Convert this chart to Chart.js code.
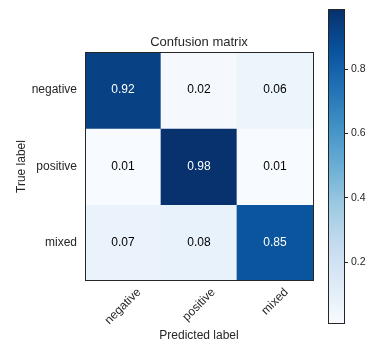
<!DOCTYPE html>
<html>
<head>
<meta charset="utf-8">
<script src="https://cdn.jsdelivr.net/npm/chart.js@4.4.1/dist/chart.umd.min.js"></script>
<style>
  html, body { margin: 0; padding: 0; background: #ffffff; overflow: hidden; }
  #wrap { position: relative; width: 386px; height: 353px; }
  #main { position: absolute; left: 0; top: 0; }
  #cb { position: absolute; left: 320px; top: 0; }
</style>
</head>
<body>
<div id="wrap">
  <canvas id="main" width="386" height="353"></canvas>
  <canvas id="cb" width="66" height="353"></canvas>
</div>
<script>
// ---------- data ----------
const classes = ['negative', 'positive', 'mixed'];      // true (rows) and predicted (columns) labels
const negativeRow = [0.92, 0.02, 0.06];
const positiveRow = [0.01, 0.98, 0.01];
const mixedRow    = [0.07, 0.08, 0.85];
const matrixRows  = [negativeRow, positiveRow, mixedRow];
const colorbarTicks = [0.2, 0.4, 0.6, 0.8];
const colorMin = 0.008;   // colour scale limits
const colorMax = 0.986;
const chartTitle = 'Confusion matrix';
const xTitle = 'Predicted label';
const yTitle = 'True label';

// ---------- style ----------
const FONT = '"Liberation Sans", Arial, sans-serif';
const INK = '#262626';
const BLUES = [
  [247, 251, 255], [222, 235, 247], [198, 219, 239], [158, 202, 225], [107, 174, 214],
  [66, 146, 198], [33, 113, 181], [8, 81, 156], [8, 48, 107]
];
function blues(t) {
  t = Math.max(0, Math.min(1, t));
  const p = t * (BLUES.length - 1);
  const i = Math.min(Math.floor(p), BLUES.length - 2);
  const f = p - i;
  const a = BLUES[i], b = BLUES[i + 1];
  const c = a.map((v, k) => Math.round(v + (b[k] - v) * f));
  return `rgb(${c[0]},${c[1]},${c[2]})`;
}
const norm = v => (v - colorMin) / (colorMax - colorMin);
const maxVal = Math.max(...matrixRows.flat());
const thresh = maxVal / 2;

// frame around the plot area
const framePlugin = {
  id: 'frame',
  afterDraw(chart) {
    const {ctx, chartArea: a} = chart;
    ctx.save();
    ctx.strokeStyle = INK;
    ctx.lineWidth = 1;
    const l = Math.round(a.left) + 0.5, t = Math.round(a.top) + 0.5;
    const r = Math.round(a.right) + 0.5, b = Math.round(a.bottom) - 0.5;
    ctx.strokeRect(l, t, r - l, b - t);
    ctx.restore();
  }
};

// cell value texts
const cellTextPlugin = {
  id: 'cellText',
  afterDatasetsDraw(chart) {
    const {ctx} = chart;
    ctx.save();
    ctx.font = `12px ${FONT}`;
    ctx.textAlign = 'center';
    ctx.textBaseline = 'middle';
    chart.data.datasets.forEach((ds, i) => {
      const meta = chart.getDatasetMeta(i);
      meta.data.forEach((el, j) => {
        const v = matrixRows[i][j];
        ctx.fillStyle = v > thresh ? '#ffffff' : '#000000';
        ctx.fillText(v.toFixed(2), el.x, (el.y + el.base) / 2);
      });
    });
    ctx.restore();
  }
};

// rotated (45°) predicted-class labels, centred under each column
const xLabelPlugin = {
  id: 'xLabels',
  afterDraw(chart) {
    const {ctx, chartArea} = chart;
    const xs = chart.scales.x;
    const fs = 12;
    ctx.save();
    ctx.font = `${fs}px ${FONT}`;
    ctx.fillStyle = INK;
    ctx.textAlign = 'center';
    ctx.textBaseline = 'middle';
    classes.forEach((lab, i) => {
      const w = ctx.measureText(lab).width;
      const x = xs.getPixelForValue(i);
      const y = chartArea.bottom + 5.5 + (w + fs * 0.9) / (2 * Math.SQRT2);
      ctx.save();
      ctx.translate(x, y);
      ctx.rotate(-Math.PI / 4);
      ctx.fillText(lab, 0, 0);
      ctx.restore();
    });
    ctx.restore();
  }
};

new Chart(document.getElementById('main'), {
  type: 'bar',
  data: {
    labels: classes,
    datasets: matrixRows.map((row, i) => ({
      label: classes[i],
      data: row.map(() => [i, i + 1]),
      backgroundColor: row.map(v => blues(norm(v))),
      borderWidth: 0,
      grouped: false,
      barPercentage: 1,
      categoryPercentage: 1
    }))
  },
  options: {
    responsive: false,
    animation: false,
    events: [],
    layout: { padding: { left: 0, right: 73, top: 0, bottom: 0 } },
    plugins: {
      legend: { display: false },
      tooltip: { enabled: false },
      title: {
        display: true, text: chartTitle, fullSize: false, color: INK,
        font: { family: FONT, size: 13, weight: 'normal' },
        padding: { top: 34.9, bottom: 1.5 }
      }
    },
    scales: {
      x: {
        type: 'category', offset: true,
        grid: { display: false, drawTicks: false },
        border: { display: false },
        ticks: { display: false },
        title: {
          display: true, text: xTitle, color: INK,
          font: { family: FONT, size: 12 },
          padding: { top: 0, bottom: 10 }
        },
        afterFit: s => { s.height = 72; }
      },
      y: {
        type: 'linear', min: 0, max: classes.length, reverse: true,
        grid: { display: false, drawTicks: false },
        border: { display: false },
        afterBuildTicks: s => { s.ticks = classes.map((c, i) => ({ value: i + 0.5 })); },
        ticks: {
          autoSkip: false, padding: 8, color: INK,
          font: { family: FONT, size: 12 },
          callback: (v, i) => classes[i]
        },
        title: {
          display: true, text: yTitle, color: INK,
          font: { family: FONT, size: 12 },
          padding: { top: 14.5, bottom: 0 }
        },
        afterFit: s => { s.width = 85; }
      }
    }
  },
  plugins: [cellTextPlugin, xLabelPlugin, framePlugin]
});

// ---------- colour bar ----------
function barGradient(ctx) {
  const a = ctx.chart.chartArea;
  if (!a) return null;
  const g = ctx.chart.ctx.createLinearGradient(0, a.bottom, 0, a.top);
  BLUES.forEach((c, i) => g.addColorStop(i / (BLUES.length - 1), `rgb(${c[0]},${c[1]},${c[2]})`));
  return g;
}

new Chart(document.getElementById('cb'), {
  type: 'bar',
  data: {
    labels: ['colour'],
    datasets: [{
      data: [[colorMin, colorMax]],
      backgroundColor: barGradient,
      borderWidth: 0,
      barPercentage: 1,
      categoryPercentage: 1
    }]
  },
  options: {
    responsive: false,
    animation: false,
    events: [],
    layout: { padding: { left: 8, top: 8, bottom: 29, right: 0 } },
    plugins: { legend: { display: false }, tooltip: { enabled: false } },
    scales: {
      x: { display: false, offset: true },
      y: {
        position: 'right', min: colorMin, max: colorMax,
        afterBuildTicks: s => { s.ticks = colorbarTicks.map(v => ({ value: v })); },
        grid: { drawOnChartArea: false, drawTicks: true, tickLength: 4, color: INK, lineWidth: 1 },
        border: { display: false },
        ticks: {
          autoSkip: false, padding: 3, color: INK,
          font: { family: FONT, size: 10.5 },
          callback: v => v.toFixed(1)
        },
        afterFit: s => { s.width = 42; }
      }
    }
  },
  plugins: [framePlugin]
});
</script>
</body>
</html>
